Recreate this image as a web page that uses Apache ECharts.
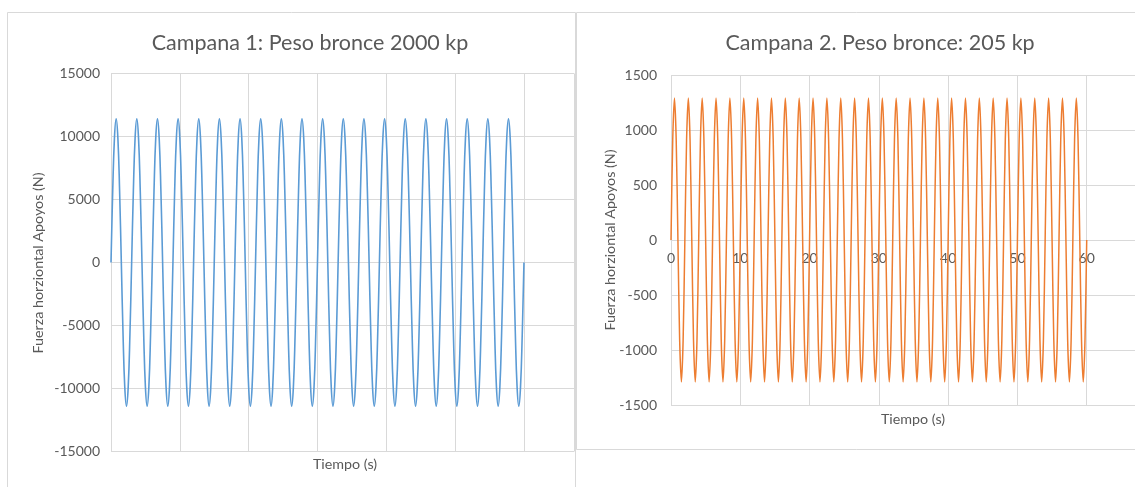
<!DOCTYPE html>
<html>
<head>
<meta charset="utf-8">
<script src="https://cdn.jsdelivr.net/npm/echarts@6/dist/echarts.min.js"></script>
<style>
  html, body { margin: 0; padding: 0; background: #ffffff; }
  #chart { width: 1135px; height: 487px; }
</style>
</head>
<body>
<div id="chart"></div>
<script>
// Sample instants (s), shared by both bells
const tiempo = [
  0, 0.25, 0.5, 0.75, 1, 1.25, 1.5, 1.75, 2, 2.25, 2.5, 2.75,
  3, 3.25, 3.5, 3.75, 4, 4.25, 4.5, 4.75, 5, 5.25, 5.5, 5.75,
  6, 6.25, 6.5, 6.75, 7, 7.25, 7.5, 7.75, 8, 8.25, 8.5, 8.75,
  9, 9.25, 9.5, 9.75, 10, 10.25, 10.5, 10.75, 11, 11.25, 11.5, 11.75,
  12, 12.25, 12.5, 12.75, 13, 13.25, 13.5, 13.75, 14, 14.25, 14.5, 14.75,
  15, 15.25, 15.5, 15.75, 16, 16.25, 16.5, 16.75, 17, 17.25, 17.5, 17.75,
  18, 18.25, 18.5, 18.75, 19, 19.25, 19.5, 19.75, 20, 20.25, 20.5, 20.75,
  21, 21.25, 21.5, 21.75, 22, 22.25, 22.5, 22.75, 23, 23.25, 23.5, 23.75,
  24, 24.25, 24.5, 24.75, 25, 25.25, 25.5, 25.75, 26, 26.25, 26.5, 26.75,
  27, 27.25, 27.5, 27.75, 28, 28.25, 28.5, 28.75, 29, 29.25, 29.5, 29.75,
  30, 30.25, 30.5, 30.75, 31, 31.25, 31.5, 31.75, 32, 32.25, 32.5, 32.75,
  33, 33.25, 33.5, 33.75, 34, 34.25, 34.5, 34.75, 35, 35.25, 35.5, 35.75,
  36, 36.25, 36.5, 36.75, 37, 37.25, 37.5, 37.75, 38, 38.25, 38.5, 38.75,
  39, 39.25, 39.5, 39.75, 40, 40.25, 40.5, 40.75, 41, 41.25, 41.5, 41.75,
  42, 42.25, 42.5, 42.75, 43, 43.25, 43.5, 43.75, 44, 44.25, 44.5, 44.75,
  45, 45.25, 45.5, 45.75, 46, 46.25, 46.5, 46.75, 47, 47.25, 47.5, 47.75,
  48, 48.25, 48.5, 48.75, 49, 49.25, 49.5, 49.75, 50, 50.25, 50.5, 50.75,
  51, 51.25, 51.5, 51.75, 52, 52.25, 52.5, 52.75, 53, 53.25, 53.5, 53.75,
  54, 54.25, 54.5, 54.75, 55, 55.25, 55.5, 55.75, 56, 56.25, 56.5, 56.75,
  57, 57.25, 57.5, 57.75, 58, 58.25, 58.5, 58.75, 59, 59.25, 59.5, 59.75,
  60
];

// Campana 1 (2000 kp): horizontal force on the supports (N), one 3 s swing per row
const fuerzaCampana1 = [
  0, 5700, 9873, 11400, 9873, 5700, 0, -5700, -9873, -11400, -9873, -5700,
  0, 5700, 9873, 11400, 9873, 5700, 0, -5700, -9873, -11400, -9873, -5700,
  0, 5700, 9873, 11400, 9873, 5700, 0, -5700, -9873, -11400, -9873, -5700,
  0, 5700, 9873, 11400, 9873, 5700, 0, -5700, -9873, -11400, -9873, -5700,
  0, 5700, 9873, 11400, 9873, 5700, 0, -5700, -9873, -11400, -9873, -5700,
  0, 5700, 9873, 11400, 9873, 5700, 0, -5700, -9873, -11400, -9873, -5700,
  0, 5700, 9873, 11400, 9873, 5700, 0, -5700, -9873, -11400, -9873, -5700,
  0, 5700, 9873, 11400, 9873, 5700, 0, -5700, -9873, -11400, -9873, -5700,
  0, 5700, 9873, 11400, 9873, 5700, 0, -5700, -9873, -11400, -9873, -5700,
  0, 5700, 9873, 11400, 9873, 5700, 0, -5700, -9873, -11400, -9873, -5700,
  0, 5700, 9873, 11400, 9873, 5700, 0, -5700, -9873, -11400, -9873, -5700,
  0, 5700, 9873, 11400, 9873, 5700, 0, -5700, -9873, -11400, -9873, -5700,
  0, 5700, 9873, 11400, 9873, 5700, 0, -5700, -9873, -11400, -9873, -5700,
  0, 5700, 9873, 11400, 9873, 5700, 0, -5700, -9873, -11400, -9873, -5700,
  0, 5700, 9873, 11400, 9873, 5700, 0, -5700, -9873, -11400, -9873, -5700,
  0, 5700, 9873, 11400, 9873, 5700, 0, -5700, -9873, -11400, -9873, -5700,
  0, 5700, 9873, 11400, 9873, 5700, 0, -5700, -9873, -11400, -9873, -5700,
  0, 5700, 9873, 11400, 9873, 5700, 0, -5700, -9873, -11400, -9873, -5700,
  0, 5700, 9873, 11400, 9873, 5700, 0, -5700, -9873, -11400, -9873, -5700,
  0, 5700, 9873, 11400, 9873, 5700, 0, -5700, -9873, -11400, -9873, -5700,
  0
];

// Campana 2 (205 kp): horizontal force on the supports (N), one 2 s swing per row
const fuerzaCampana2 = [
  0, 912, 1290, 912, 0, -912, -1290, -912,
  0, 912, 1290, 912, 0, -912, -1290, -912,
  0, 912, 1290, 912, 0, -912, -1290, -912,
  0, 912, 1290, 912, 0, -912, -1290, -912,
  0, 912, 1290, 912, 0, -912, -1290, -912,
  0, 912, 1290, 912, 0, -912, -1290, -912,
  0, 912, 1290, 912, 0, -912, -1290, -912,
  0, 912, 1290, 912, 0, -912, -1290, -912,
  0, 912, 1290, 912, 0, -912, -1290, -912,
  0, 912, 1290, 912, 0, -912, -1290, -912,
  0, 912, 1290, 912, 0, -912, -1290, -912,
  0, 912, 1290, 912, 0, -912, -1290, -912,
  0, 912, 1290, 912, 0, -912, -1290, -912,
  0, 912, 1290, 912, 0, -912, -1290, -912,
  0, 912, 1290, 912, 0, -912, -1290, -912,
  0, 912, 1290, 912, 0, -912, -1290, -912,
  0, 912, 1290, 912, 0, -912, -1290, -912,
  0, 912, 1290, 912, 0, -912, -1290, -912,
  0, 912, 1290, 912, 0, -912, -1290, -912,
  0, 912, 1290, 912, 0, -912, -1290, -912,
  0, 912, 1290, 912, 0, -912, -1290, -912,
  0, 912, 1290, 912, 0, -912, -1290, -912,
  0, 912, 1290, 912, 0, -912, -1290, -912,
  0, 912, 1290, 912, 0, -912, -1290, -912,
  0, 912, 1290, 912, 0, -912, -1290, -912,
  0, 912, 1290, 912, 0, -912, -1290, -912,
  0, 912, 1290, 912, 0, -912, -1290, -912,
  0, 912, 1290, 912, 0, -912, -1290, -912,
  0, 912, 1290, 912, 0, -912, -1290, -912,
  0, 912, 1290, 912, 0, -912, -1290, -912,
  0
];

const titulos = ['Campana 1: Peso bronce 2000 kp', 'Campana 2. Peso bronce: 205 kp'];
const nombreEjeY = 'Fuerza horziontal Apoyos (N)';
const nombreEjeX = 'Tiempo (s)';

const FONT = 'Lato, "Liberation Sans", sans-serif';
const TXT = '#595959';
const GRID = '#d9d9d9';

const serie1 = tiempo.map((t, i) => [t, fuerzaCampana1[i]]);
const serie2 = tiempo.map((t, i) => [t, fuerzaCampana2[i]]);

const chart = echarts.init(document.getElementById('chart'), null, { renderer: 'canvas' });

const splitLine = { show: true, lineStyle: { color: GRID, width: 1 } };
const plain = v => String(v);
const tickFont = { color: TXT, fontSize: 14, fontFamily: FONT };

chart.setOption({
  animation: false,
  backgroundColor: '#ffffff',
  textStyle: { fontFamily: FONT },
  grid: [
    { left: 111, top: 73.5, width: 463, height: 378, outerBoundsMode: 'none', containLabel: false },
    { left: 671, top: 75, width: 485, height: 330, outerBoundsMode: 'none', containLabel: false }
  ],
  xAxis: [
    {
      gridIndex: 0, type: 'value', min: 0, max: 67.27, interval: 10,
      axisLine: { show: false, onZero: false }, axisTick: { show: false },
      axisLabel: { show: false }, splitLine: splitLine
    },
    {
      // time axis drawn across the zero force line
      gridIndex: 1, type: 'value', min: 0, max: 70, interval: 10,
      position: 'bottom', offset: -165,
      axisLine: { show: true, onZero: false, lineStyle: { color: GRID } },
      axisTick: { show: false },
      axisLabel: Object.assign({ margin: 11, formatter: plain }, tickFont),
      splitLine: splitLine
    }
  ],
  yAxis: [
    {
      gridIndex: 0, type: 'value', min: -15000, max: 15000, interval: 5000,
      axisLine: { show: false, onZero: false }, axisTick: { show: false },
      axisLabel: Object.assign({ margin: 11, formatter: plain }, tickFont),
      splitLine: splitLine
    },
    {
      gridIndex: 1, type: 'value', min: -1500, max: 1500, interval: 500,
      axisLine: { show: false, onZero: false }, axisTick: { show: false },
      axisLabel: Object.assign({ margin: 14, formatter: plain }, tickFont),
      splitLine: splitLine
    }
  ],
  series: [
    {
      type: 'line', xAxisIndex: 0, yAxisIndex: 0, data: serie1,
      smooth: 0.45, showSymbol: false, lineStyle: { color: '#5b9bd5', width: 1.6 }
    },
    {
      type: 'line', xAxisIndex: 1, yAxisIndex: 1, data: serie2,
      smooth: 0.3, showSymbol: false, lineStyle: { color: '#ed7d31', width: 1.5 }
    }
  ],
  graphic: [
    // panel frames
    { type: 'rect', shape: { x: 7.5, y: 12.5, width: 568, height: 490 },
      style: { fill: 'none', stroke: GRID, lineWidth: 1 }, silent: true },
    { type: 'rect', shape: { x: 576.5, y: 12.5, width: 580, height: 437 },
      style: { fill: 'none', stroke: GRID, lineWidth: 1 }, silent: true },
    // chart titles
    { type: 'text', x: 310, y: 43,
      style: { text: titulos[0], fill: TXT, font: '21.5px ' + FONT, textAlign: 'center', textVerticalAlign: 'middle' } },
    { type: 'text', x: 880, y: 43,
      style: { text: titulos[1], fill: TXT, font: '21.5px ' + FONT, textAlign: 'center', textVerticalAlign: 'middle' } },
    // axis titles
    { type: 'text', x: 38, y: 263, rotation: Math.PI / 2,
      style: { text: nombreEjeY, fill: TXT, font: '14.3px ' + FONT, textAlign: 'center', textVerticalAlign: 'middle' } },
    { type: 'text', x: 610, y: 240, rotation: Math.PI / 2,
      style: { text: nombreEjeY, fill: TXT, font: '14.3px ' + FONT, textAlign: 'center', textVerticalAlign: 'middle' } },
    { type: 'text', x: 345, y: 464,
      style: { text: nombreEjeX, fill: TXT, font: '14.3px ' + FONT, textAlign: 'center', textVerticalAlign: 'middle' } },
    { type: 'text', x: 913, y: 419,
      style: { text: nombreEjeX, fill: TXT, font: '14.3px ' + FONT, textAlign: 'center', textVerticalAlign: 'middle' } }
  ]
});
</script>
</body>
</html>
